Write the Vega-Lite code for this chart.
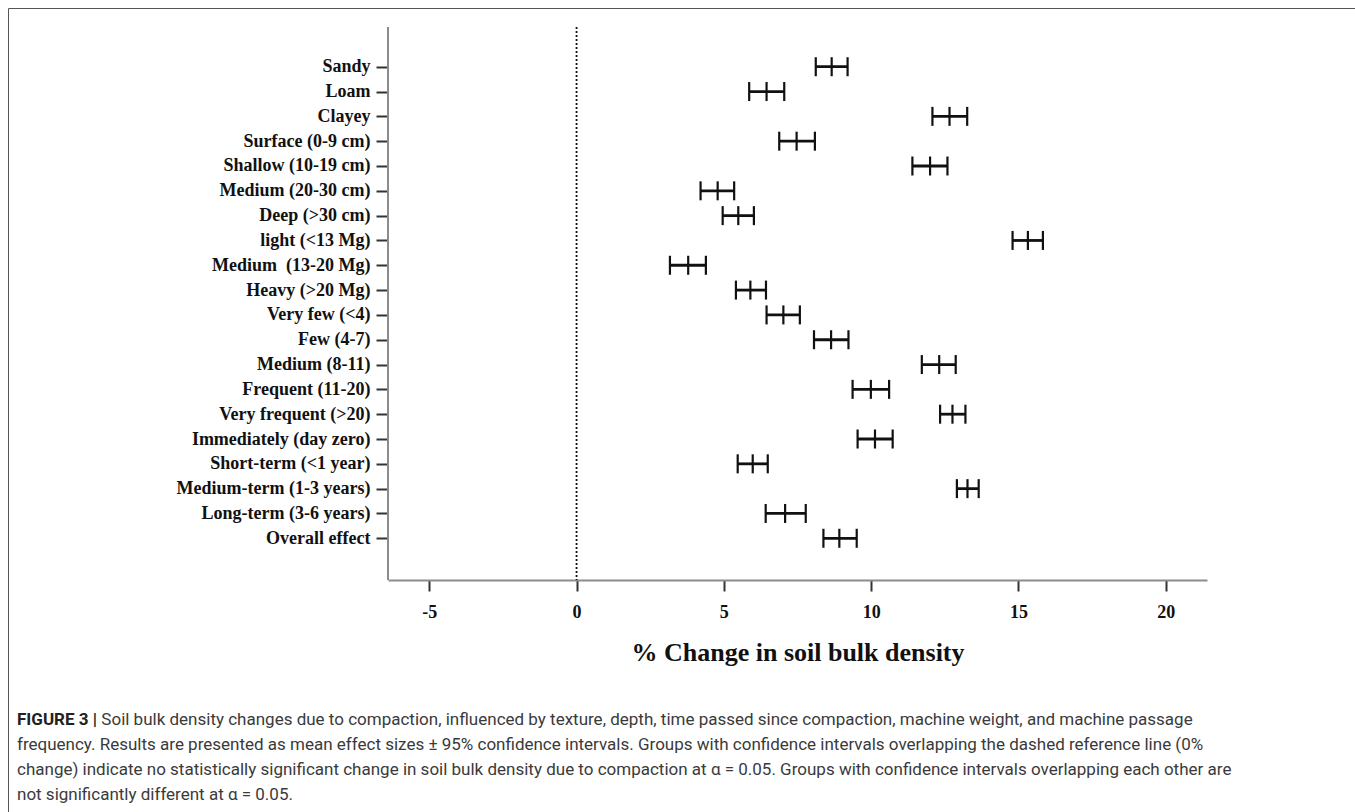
{
  "$schema": "https://vega.github.io/schema/vega-lite/v6.json",
  "autosize": {"type": "none"},
  "padding": {"left": 8, "top": 8, "right": 0, "bottom": 0},
  "width": 1347,
  "height": 804,
  "background": "white",
  "config": {
    "view": {"stroke": "#555555", "strokeWidth": 1},
    "axis": {"grid": false}
  },
  "title": {
    "text": "FIGURE 3 |",
    "subtitle": [
      "\u200b\u00a0\u00a0\u00a0\u00a0\u00a0\u00a0\u00a0\u00a0\u00a0\u00a0\u00a0\u00a0\u00a0\u00a0\u00a0\u00a0\u00a0\u00a0\u00a0\u00a0Soil bulk density changes due to compaction, influenced by texture, depth, time passed since compaction, machine weight, and machine passage",
      "frequency. Results are presented as mean effect sizes ± 95% confidence intervals. Groups with confidence intervals overlapping the dashed reference line (0%",
      "change) indicate no statistically significant change in soil bulk density due to compaction at α = 0.05. Groups with confidence intervals overlapping each other are",
      "not significantly different at α = 0.05."
    ],
    "orient": "top",
    "anchor": "start",
    "frame": "group",
    "offset": 0,
    "dx": 9,
    "dy": 796,
    "baseline": "top",
    "font": "Roboto",
    "fontSize": 17,
    "fontWeight": "bold",
    "color": "#222222",
    "subtitleFont": "Roboto",
    "subtitleFontSize": 17,
    "subtitleFontWeight": "normal",
    "subtitleColor": "#3a3a3a",
    "subtitleLineHeight": 25,
    "subtitlePadding": -17
  },
  "datasets": {
    "groups": [
      {"order": 1, "group": "Sandy", "lo": 8.12, "mean": 8.66, "hi": 9.2},
      {"order": 2, "group": "Loam", "lo": 5.86, "mean": 6.45, "hi": 7.05},
      {"order": 3, "group": "Clayey", "lo": 12.08, "mean": 12.66, "hi": 13.26},
      {"order": 4, "group": "Surface (0-9 cm)", "lo": 6.88, "mean": 7.47, "hi": 8.09},
      {"order": 5, "group": "Shallow (10-19 cm)", "lo": 11.4, "mean": 12.0, "hi": 12.59},
      {"order": 6, "group": "Medium (20-30 cm)", "lo": 4.21, "mean": 4.79, "hi": 5.35},
      {"order": 7, "group": "Deep (>30 cm)", "lo": 4.96, "mean": 5.49, "hi": 6.02},
      {"order": 8, "group": "light (<13 Mg)", "lo": 14.8, "mean": 15.32, "hi": 15.83},
      {"order": 9, "group": "Medium\u00a0 (13-20 Mg)", "lo": 3.17, "mean": 3.79, "hi": 4.39},
      {"order": 10, "group": "Heavy (>20 Mg)", "lo": 5.41, "mean": 5.9, "hi": 6.43},
      {"order": 11, "group": "Very few (<4)", "lo": 6.45, "mean": 7.02, "hi": 7.58},
      {"order": 12, "group": "Few (4-7)", "lo": 8.06, "mean": 8.64, "hi": 9.23},
      {"order": 13, "group": "Medium (8-11)", "lo": 11.72, "mean": 12.31, "hi": 12.87},
      {"order": 14, "group": "Frequent (11-20)", "lo": 9.37, "mean": 9.99, "hi": 10.61},
      {"order": 15, "group": "Very frequent (>20)", "lo": 12.34, "mean": 12.76, "hi": 13.2},
      {"order": 16, "group": "Immediately (day zero)", "lo": 9.54, "mean": 10.13, "hi": 10.73},
      {"order": 17, "group": "Short-term (<1 year)", "lo": 5.47, "mean": 5.98, "hi": 6.49},
      {"order": 18, "group": "Medium-term (1-3 years)", "lo": 12.91, "mean": 13.27, "hi": 13.65},
      {"order": 19, "group": "Long-term (3-6 years)", "lo": 6.42, "mean": 7.08, "hi": 7.78},
      {"order": 20, "group": "Overall effect", "lo": 8.38, "mean": 8.92, "hi": 9.51}
    ],
    "lines": [
      {"kind": "reference", "x": 0, "top": 0, "bottom": 1},
      {"kind": "axis", "x": -6.4, "top": 0, "bottom": 1}
    ]
  },
  "layer": [
    {
      "data": {"name": "lines"},
      "encoding": {
        "x": {"field": "x", "type": "quantitative"},
        "y": {"field": "top", "type": "quantitative", "scale": {"domain": [0, 1], "range": [19, 572]}, "axis": null},
        "y2": {"field": "bottom"}
      },
      "layer": [
        {
          "transform": [{"filter": "datum.kind === 'axis'"}],
          "mark": {"type": "rule", "color": "#8c8c8c", "strokeWidth": 2}
        },
        {
          "transform": [{"filter": "datum.kind === 'reference'"}],
          "mark": {"type": "rule", "color": "#111111", "strokeWidth": 1.8, "strokeDash": [2, 2]}
        }
      ]
    },
    {
      "data": {"name": "groups"},
      "layer": [
        {
          "mark": {"type": "rule", "color": "#111111", "strokeWidth": 2.8},
          "encoding": {
            "x": {"field": "lo", "type": "quantitative"},
            "x2": {"field": "hi"},
            "y": {"field": "group", "type": "nominal"}
          }
        },
        {
          "transform": [{"fold": ["lo", "mean", "hi"], "as": ["stat", "val"]}],
          "mark": {"type": "tick", "color": "#111111", "size": 19, "thickness": 2.2, "opacity": 1},
          "encoding": {
            "x": {"field": "val", "type": "quantitative"},
            "y": {"field": "group", "type": "nominal"}
          }
        }
      ],
      "encoding": {
        "y": {
          "field": "group",
          "type": "nominal",
          "sort": {"field": "order", "op": "min"},
          "scale": {"type": "point", "range": [33.9, 555.1], "padding": 1},
          "axis": {
            "orient": "left",
            "offset": -380,
            "title": null,
            "domain": false,
            "tickColor": "#333333",
            "tickWidth": 2,
            "tickSize": 12,
            "labelPadding": 6,
            "labelFont": "Liberation Serif",
            "labelFontWeight": "bold",
            "labelFontSize": 18,
            "labelColor": "#111111",
            "labelLimit": 400
          }
        },
        "x": {
          "type": "quantitative",
          "scale": {"domain": [-6.4, 21.4], "range": [380, 1199], "nice": false, "zero": false},
          "axis": {
            "orient": "bottom",
            "offset": -232,
            "values": [-5, 0, 5, 10, 15, 20],
            "labelExpr": "'' + datum.value",
            "title": "% Change in soil bulk density",
            "titleFont": "Liberation Serif",
            "titleFontWeight": "bold",
            "titleFontSize": 26,
            "titleColor": "#111111",
            "titlePadding": 18,
            "domainColor": "#8c8c8c",
            "domainWidth": 2,
            "tickColor": "#333333",
            "tickWidth": 2,
            "tickSize": 11,
            "labelPadding": 12,
            "labelFont": "Liberation Serif",
            "labelFontWeight": "bold",
            "labelFontSize": 18,
            "labelColor": "#111111"
          }
        }
      }
    }
  ],
  "resolve": {"scale": {"y": "independent"}}
}
